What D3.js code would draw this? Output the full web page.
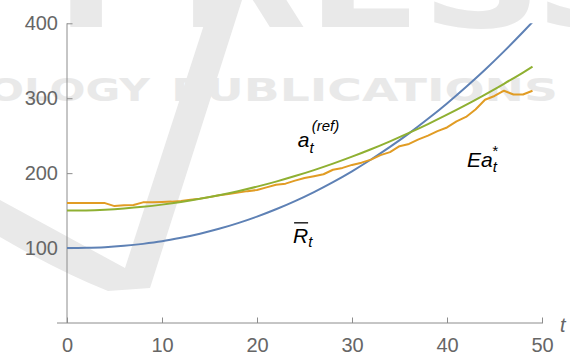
<!DOCTYPE html>
<html>
<head>
<meta charset="utf-8">
<script src="https://cdn.jsdelivr.net/npm/d3@7"></script>
<style>
  html, body { margin: 0; padding: 0; background: #fff; }
  svg { display: block; }
  .tick text { font-family: "Liberation Sans", Arial, sans-serif; font-size: 20px; fill: #666; }
  .lbl { font-family: "Liberation Sans", Arial, sans-serif; font-style: italic; fill: #000; }
  .wm { font-family: "DejaVu Sans", sans-serif; font-weight: bold; }
</style>
</head>
<body>
<div id="container"></div>
<script>
const smoothT = [0, 2, 4, 6, 8, 10, 12, 14, 16, 18, 20, 22, 24, 26, 28, 30, 32, 34, 36, 38, 40, 42, 44, 46, 48, 49]
const rBar = [100, 100.3, 101.2, 103, 105.6, 109, 113.7, 119.2, 125.7, 133.3, 142, 151.8, 162.7, 174.8, 188.1,
    202.5, 218.2, 235, 253.1, 272.5, 293.1, 315, 338, 362.5, 388.3, 401.7]
const aRef = [150, 150.3, 151.3, 152.9, 155.1, 158, 161.5, 165.7, 170.5, 175.9, 182, 188.7, 196.1, 204.1, 212.7,
    222, 231.9, 242.5, 253.7, 265.5, 278, 291.1, 304.9, 319.3, 334.3, 342.1]

// simulated series, one value per step t = 0..49
const eaStar = [160, 160, 160, 160, 160, 156, 157, 157.5, 161, 161,
    161.5, 162, 163, 164.5, 166, 168, 170.5, 172, 174, 176,
    177.5, 181, 184.5, 186, 190, 193.5, 196, 198.5, 204.5, 207,
    211, 214, 218, 224, 228, 236, 239, 245, 250, 256,
    261, 269, 275, 285, 298, 303, 310, 305, 305, 310]
const stepT = d3.range(eaStar.length)

const xMajor = [0, 10, 20, 30, 40, 50]
const yMajor = [100, 200, 300, 400]

const width = 570
const height = 354
const blue = "#5e81b5"
const orange = "#e19c24"
const green = "#8fb032"
const axisGray = "#8c8c8c"

const x = d3.scaleLinear().domain([0, 50]).range([67, 542])
const y = d3.scaleLinear().domain([0, 400]).range([323, 23.3])

const svg = d3.select("#container").append("svg")
    .attr("width", width)
    .attr("height", height)

// faint publisher watermark behind the plot
const wm = svg.append("g").attr("fill", "#e9e9e9")
wm.append("path")
    .attr("d", "M0,200 L125,268 L212,0 L242,0 L150,288 L108,291 Q60,272 0,237 Z")
wm.append("text").attr("class", "wm")
    .attr("x", 55).attr("y", 27)
    .attr("textLength", 600).attr("lengthAdjust", "spacingAndGlyphs")
    .style("font-size", "130px")
    .text("PRESS")
wm.append("text").attr("class", "wm")
    .attr("x", -12).attr("y", 101)
    .attr("textLength", 162).attr("lengthAdjust", "spacingAndGlyphs")
    .style("font-size", "32px")
    .text("OLOGY")
wm.append("text").attr("class", "wm")
    .attr("x", 171).attr("y", 101)
    .attr("textLength", 387).attr("lengthAdjust", "spacingAndGlyphs")
    .style("font-size", "32px")
    .text("PUBLICATIONS")

// axes, Mathematica style: ticks pointing inward
const gx = svg.append("g").attr("transform", `translate(0,${y(0)})`)
gx.call(d3.axisBottom(x).tickValues(d3.range(0, 51, 2)).tickSize(-3).tickFormat(""))
gx.call(d3.axisBottom(x).tickValues(xMajor).tickSize(-5.5).tickPadding(15).tickFormat(d3.format("d")))
gx.selectAll(".domain").remove()
gx.selectAll("line").attr("stroke", axisGray)

const gy = svg.append("g").attr("transform", `translate(${x(0)},0)`)
gy.call(d3.axisLeft(y).tickValues(d3.range(20, 401, 20)).tickSize(-3).tickFormat(""))
gy.call(d3.axisLeft(y).tickValues(yMajor).tickSize(-5.5).tickPadding(9).tickFormat(d3.format("d")))
gy.selectAll(".domain").remove()
gy.selectAll("line").attr("stroke", axisGray)

svg.append("line")
    .attr("x1", x(0) - 10).attr("x2", x(50) + 1)
    .attr("y1", y(0)).attr("y2", y(0))
    .attr("stroke", axisGray)
svg.append("line")
    .attr("x1", x(0)).attr("x2", x(0))
    .attr("y1", y(0)).attr("y2", y(400))
    .attr("stroke", axisGray)

svg.append("text")
    .attr("class", "lbl")
    .attr("x", x(50) + 18).attr("y", y(0) + 9)
    .style("font-size", "20px").style("fill", "#666")
    .text("t")

// curves
svg.append("clipPath").attr("id", "plotClip")
    .append("rect")
    .attr("x", x(0)).attr("y", y(400))
    .attr("width", x(50) - x(0) + 10).attr("height", y(0) - y(400))

const plot = svg.append("g").attr("clip-path", "url(#plotClip)")

const smoothLine = (vals) => d3.line()
    .x((d, i) => x(smoothT[i]))
    .y((d) => y(d))
    .curve(d3.curveMonotoneX)(vals)

plot.append("path")
    .attr("d", smoothLine(rBar))
    .attr("fill", "none").attr("stroke", blue).attr("stroke-width", 2)

plot.append("path")
    .attr("d", d3.line().x((d, i) => x(stepT[i])).y((d) => y(d))(eaStar))
    .attr("fill", "none").attr("stroke", orange).attr("stroke-width", 2)
    .attr("stroke-linejoin", "round")

plot.append("path")
    .attr("d", smoothLine(aRef))
    .attr("fill", "none").attr("stroke", green).attr("stroke-width", 2)

// curve labels
const aLbl = svg.append("text").attr("class", "lbl")
    .attr("x", x(24.3)).attr("y", y(235))
aLbl.append("tspan").style("font-size", "21px").text("a")
aLbl.append("tspan").attr("dy", 6).style("font-size", "15px").text("t")
aLbl.append("tspan").attr("dx", -2).attr("dy", -22).style("font-size", "15px").text("(ref)")

const rLbl = svg.append("text").attr("class", "lbl")
    .attr("x", x(23.8)).attr("y", y(107))
rLbl.append("tspan").style("font-size", "21px").text("R")
rLbl.append("tspan").attr("dy", 4).style("font-size", "15px").text("t")
svg.append("line")
    .attr("x1", x(23.8) + 1).attr("x2", x(23.8) + 15)
    .attr("y1", y(107) - 20).attr("y2", y(107) - 20)
    .attr("stroke", "#000").attr("stroke-width", 1.3)

const eLbl = svg.append("text").attr("class", "lbl")
    .attr("x", x(42.1)).attr("y", y(208))
eLbl.append("tspan").style("font-size", "21px").text("Ea")
eLbl.append("tspan").attr("dy", 5).style("font-size", "15px").text("t")
eLbl.append("tspan").attr("dx", -5).attr("dy", -16).style("font-size", "15px").text("*")
</script>
</body>
</html>
